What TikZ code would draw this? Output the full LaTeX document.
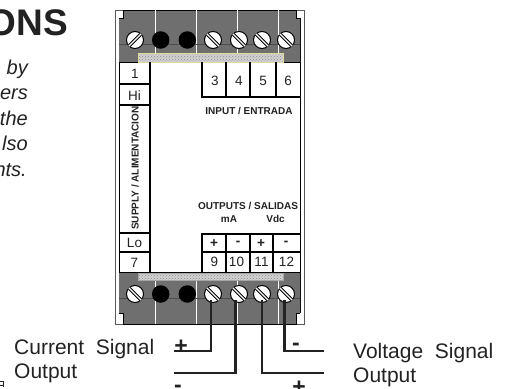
\documentclass[tikz,border=0pt]{standalone}
\usepackage{fontspec}
\setmainfont{Liberation Sans}
\usetikzlibrary{patterns,calc}
\definecolor{body}{HTML}{6F6F6F}
\definecolor{ink}{HTML}{222222}
\definecolor{striphatch}{HTML}{8A8A8A}
\tikzset{
  wire/.style={draw=ink,line width=2.1pt,line join=miter},
  cellline/.style={draw=black,line width=1.3pt},
  lbl/.style={inner sep=0pt,text=ink,font=\fontsize{13.5}{14}\selectfont},
  smalllbl/.style={inner sep=0pt,text=ink,font=\fontsize{10}{11}\selectfont\bfseries},
  bigtxt/.style={inner sep=0pt,anchor=base west,text=ink,font=\fontsize{21}{21}\selectfont},
  ital/.style={inner sep=0pt,anchor=base east,text=ink,font=\fontsize{20}{20}\selectfont\itshape},
  sign/.style={inner sep=0pt,text=ink,font=\fontsize{23}{23}\selectfont\bfseries},
  screwA/.style={circle,draw=black,line width=1pt,fill=white,minimum size=17pt,inner sep=0pt},
  blackhole/.style={circle,fill=black,minimum size=17.5pt,inner sep=0pt},
  sep/.style={draw=white,line width=0.7pt},
  strip/.style={pattern=crosshatch dots,pattern color=striphatch,draw=#1,line width=0.7pt}
}
\newcommand{\slotdown}[1]{%
  \draw[black,line width=3.4pt] ($(#1)+(-5.6,-5.6)$)--($(#1)+(5.6,5.6)$);
  \draw[white,line width=1.2pt] ($(#1)+(-6.2,-6.2)$)--($(#1)+(6.2,6.2)$);}
\newcommand{\slotup}[1]{%
  \draw[black,line width=3.4pt] ($(#1)+(-5.6,5.6)$)--($(#1)+(5.6,-5.6)$);
  \draw[white,line width=1.2pt] ($(#1)+(-6.2,6.2)$)--($(#1)+(6.2,-6.2)$);}
\begin{document}
\begin{tikzpicture}[x=1pt,y=-1pt]
\useasboundingbox (0,0) rectangle (508,388);
\clip (0,0) rectangle (508,388);
% outer housing
\draw[draw=gray!70!black,line width=1pt,fill=white] (115.5,10) rectangle (304.5,324);
\draw[draw=black,line width=1pt] (119,18)--(119,313);
\draw[draw=black,line width=1pt] (300,18)--(300,313);
% top block
\fill[body] (123,10)--(296,10)--(296,18)--(300,18)--(300,62)--(119,62)--(119,18)--(123,18)--cycle;
\draw[black,line width=1pt] (119,18)--(123,18)--(123,10)--(296,10)--(296,18)--(300,18);
\draw[black,line width=1pt] (119,62)--(300,62);
% bottom block
\fill[body] (119,272)--(300,272)--(300,313)--(296,313)--(296,324)--(123,324)--(123,313)--(119,313)--cycle;
\draw[black,line width=1pt] (119,272)--(300,272) (119,313)--(123,313)--(123,324)--(296,324)--(296,313)--(300,313);
% separators and rails
\foreach \x in {155,196,237.5,278}{
  \draw[sep] (\x,10)--(\x,62);
  \draw[sep] (\x,280)--(\x,324);
}
\draw[black!70,line width=.5pt] (119,44.5)--(300,44.5);
\draw[black!70,line width=.5pt] (119,298)--(300,298);
% strips
\fill[gray!35] (138,53) rectangle (283,62);
\path[strip={yellow!50!gray!60}] (138,53) rectangle (283,62);
\fill[gray!35] (138,273) rectangle (283,280);
\path[strip={gray!70}] (138,273) rectangle (283,280);
% screws top
\node[screwA] (s1) at (135,40) {};
\node[blackhole] (h1) at (160.7,40) {};
\node[blackhole] (h2) at (187.3,40) {};
\node[screwA] (s3) at (213,40) {};
\node[screwA] (s4) at (239,40) {};
\node[screwA] (s5) at (262,40) {};
\node[screwA] (s6) at (286,40) {};
\slotup{s1}
\foreach \n in {s3,s4,s5,s6}{\slotdown{\n}}
% screws bottom
\node[screwA] (b1) at (135,294) {};
\node[blackhole] (h3) at (160.7,294) {};
\node[blackhole] (h4) at (187.3,294) {};
\node[screwA] (b3) at (213,294) {};
\node[screwA] (b4) at (239,294) {};
\node[screwA] (b5) at (262,294) {};
\node[screwA] (b6) at (286,294) {};
\foreach \n in {b1,b3,b4,b5,b6}{\slotdown{\n}}
% left column
\draw[cellline] (119,84)--(150,84) (119,105)--(150,105) (119,233)--(150,233) (119,252)--(150,252);
\draw[cellline] (150,62)--(150,272);
\node[lbl] (n1) at (135,73.5) {1};
\node[lbl] (nhi) at (134.5,95.5) {Hi};
\node[lbl] (nlo) at (134.5,243) {Lo};
\node[lbl] (n7) at (134.5,263) {7};
\node[smalllbl,rotate=90] (sup) at (135,168) {SUPPLY / ALIMENTACION};
% input cells
\draw[cellline] (202,62)--(202,97)--(300,97);
\draw[cellline] (226,62)--(226,97) (250,62)--(250,97) (276,62)--(276,97);
\node[lbl] (i3) at (215,81) {3};
\node[lbl] (i4) at (239,81) {4};
\node[lbl] (i5) at (263,81) {5};
\node[lbl] (i6) at (288,81) {6};
\node[smalllbl] (inp) at (249,111) {INPUT / ENTRADA};
% output cells
\draw[cellline] (202,272)--(202,234)--(300,234);
\draw[cellline] (202,252)--(300,252);
\draw[cellline] (226,234)--(226,272) (250,234)--(250,272) (273,234)--(273,272);
\node[lbl] (plus1) at (214,243.5) {\bfseries +};
\node[lbl] (minus1) at (238,243) {\bfseries -};
\node[lbl] (plus2) at (261,243.5) {\bfseries +};
\node[lbl] (minus2) at (286,243) {\bfseries -};
\node[lbl] (o9) at (214.5,262) {9};
\node[lbl] (o10) at (236.5,262) {10};
\node[lbl] (o11) at (261.5,262) {11};
\node[lbl] (o12) at (286.5,262) {12};
\node[smalllbl] (out) at (248,206) {OUTPUTS / SALIDAS};
\node[smalllbl] (ma) at (229,219) {mA};
\node[smalllbl] (vdc) at (275.5,219) {Vdc};
% wires
\coordinate (wA) at (174,351);
\coordinate (wB) at (174,373);
\coordinate (wC) at (324,373);
\coordinate (wD) at (324,351);
\draw[wire] (b3.center)++(-2,6) |- (wA);
\draw[wire] (b4.center)++(-3.5,6) |- (wB);
\draw[wire] (b5.center)++(0,6) |- (wC);
\draw[wire] (b6.center)++(-1.5,6) |- (wD);
\node[sign] (pA) at (181,346.5) {+};
\node[sign] (mB) at (178,389) {-};
\node[sign] (pC) at (299,388) {+};
\node[sign] (mD) at (296,347) {-};
% texts
\node[bigtxt] (cs) at (14,354) {Current\ \ Signal};
\node[bigtxt] (co) at (14,378) {Output};
\node[bigtxt] (vs) at (353,358) {Voltage\ \ Signal};
\node[bigtxt] (vo) at (353,382) {Output};
\node[inner sep=0pt,anchor=base east,text=ink,font=\fontsize{37}{37}\selectfont\bfseries] (title) at (68,35) {ONS};
\node[ital] (l1) at (28,74) {by};
\node[ital] (l2) at (28,99) {ers};
\node[ital] (l3) at (28,125) {the};
\node[ital] (l4) at (28,150) {lso};
\node[ital] (l5) at (27,176) {nts.};
% fragment at the lower left edge
\draw[ink,line width=.6pt] (0,381.5)--(3,381.5)--(3,387) (0,385)--(3,385);
\end{tikzpicture}
\end{document}
